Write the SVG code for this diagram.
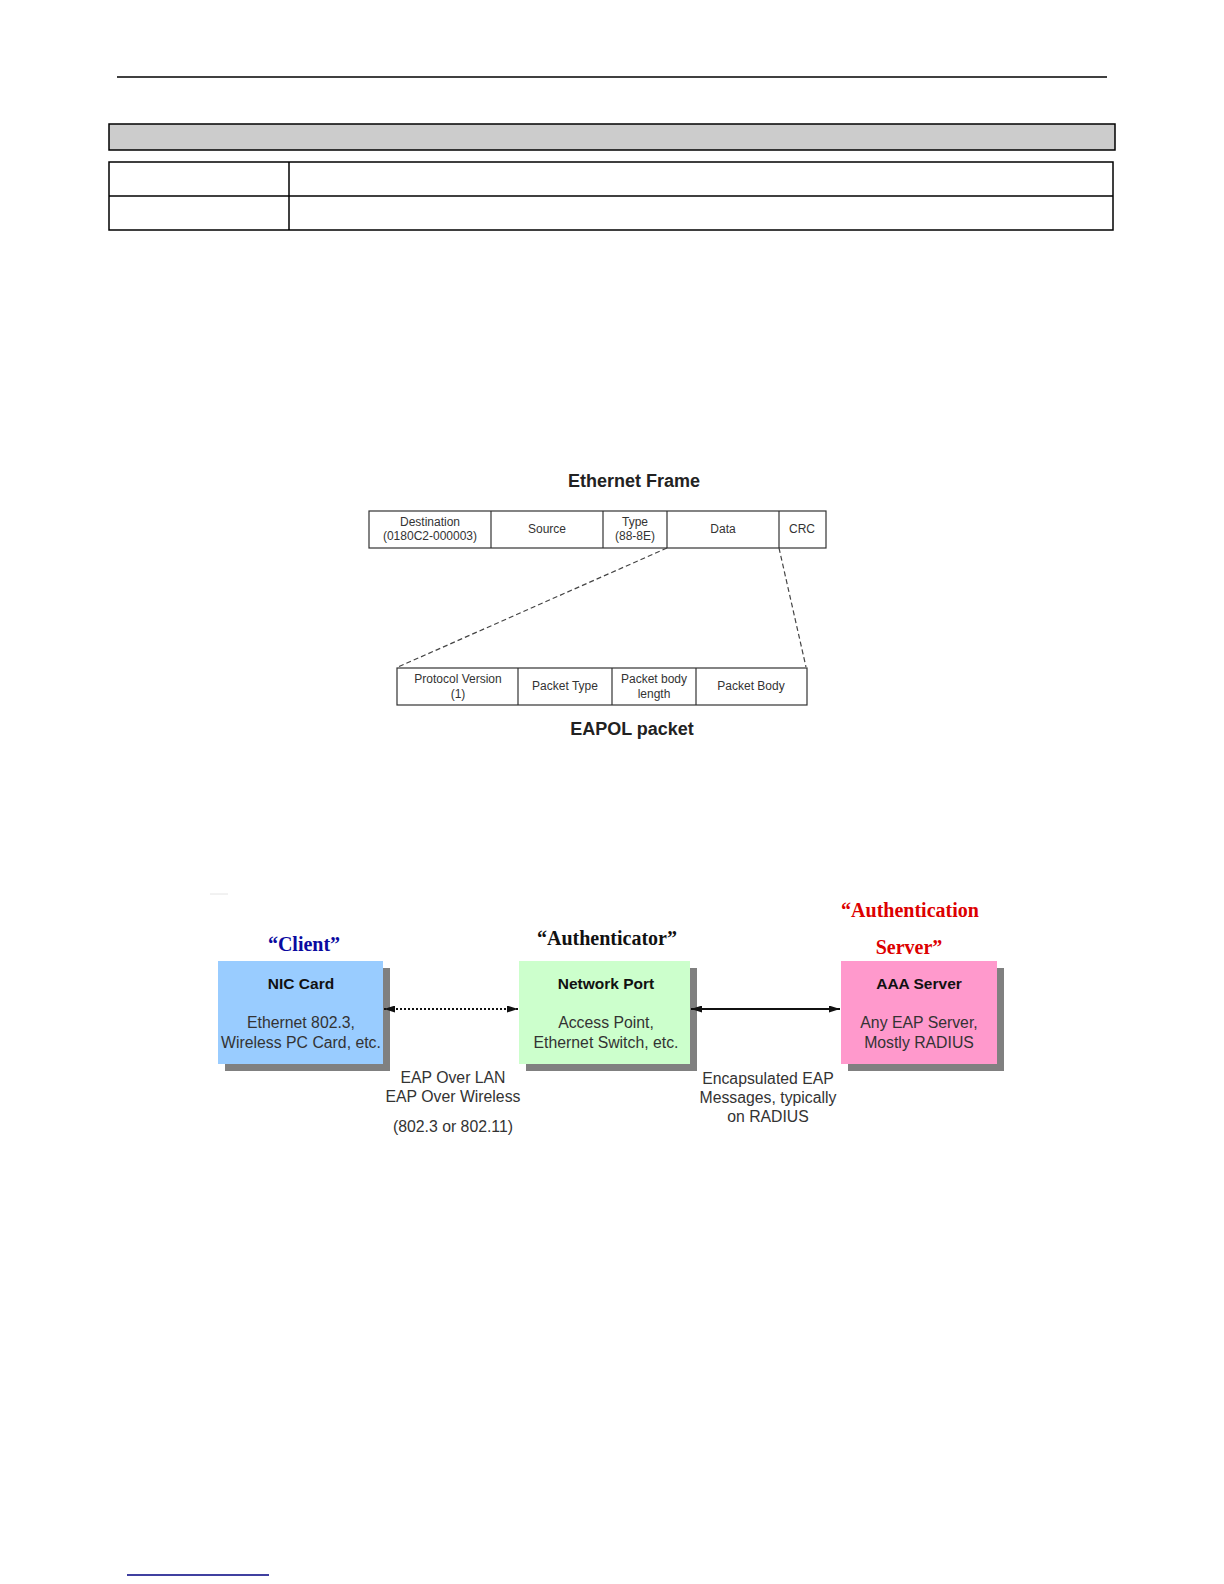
<svg xmlns="http://www.w3.org/2000/svg" width="1224" height="1584" viewBox="0 0 1224 1584">
<style>
.ln{stroke:#000;stroke-width:1.5;fill:none}
.cell{fill:#fff;stroke:#333;stroke-width:1.2}
.ft{font-family:"Liberation Sans",Arial,sans-serif;font-size:12px;fill:#333;text-anchor:middle}
.ttl{font-family:"Liberation Sans",Arial,sans-serif;font-size:18px;font-weight:bold;fill:#222;text-anchor:middle}
.role{font-family:"Liberation Serif","Times New Roman",serif;font-size:20px;font-weight:bold;text-anchor:middle}
.nh{font-family:"Liberation Sans",Arial,sans-serif;font-size:15.5px;font-weight:bold;fill:#111;text-anchor:middle}
.nb{font-family:"Liberation Sans",Arial,sans-serif;font-size:15.8px;fill:#333;text-anchor:middle}
.lbl{font-family:"Liberation Sans",Arial,sans-serif;font-size:15.8px;fill:#333;text-anchor:middle}
.dash{stroke:#444;stroke-width:1.2;stroke-dasharray:5,3;fill:none}
.shadow{fill:#808080}
</style>
<defs>
<marker id="ah" viewBox="0 0 11 7" refX="11" refY="3.5" markerWidth="11" markerHeight="7" orient="auto-start-reverse" markerUnits="userSpaceOnUse">
<path d="M0,0 L11,3.5 L0,7 z" fill="#111"/>
</marker>
</defs>
<rect width="1224" height="1584" fill="#fff"/>

<g id="page-header">
<line x1="117" y1="77" x2="1107" y2="77" class="ln" stroke-width="1.3"/>
<rect x="109" y="124" width="1006" height="26" fill="#cccccc" stroke="#000" stroke-width="1.5"/>
<rect x="109" y="162" width="1004" height="68" fill="#fff" stroke="#000" stroke-width="1.5"/>
<line x1="109" y1="196" x2="1113" y2="196" class="ln"/>
<line x1="289" y1="162" x2="289" y2="230" class="ln"/>
</g>

<g id="ethernet-frame">
<text x="634" y="487" class="ttl">Ethernet Frame</text>
<rect x="369" y="511" width="457" height="37" class="cell"/>
<line x1="491" y1="511" x2="491" y2="548" stroke="#333" stroke-width="1.2"/>
<line x1="603" y1="511" x2="603" y2="548" stroke="#333" stroke-width="1.2"/>
<line x1="667" y1="511" x2="667" y2="548" stroke="#333" stroke-width="1.2"/>
<line x1="779" y1="511" x2="779" y2="548" stroke="#333" stroke-width="1.2"/>
<text x="430" y="526" class="ft">Destination</text>
<text x="430" y="540" class="ft">(0180C2-000003)</text>
<text x="547" y="533" class="ft">Source</text>
<text x="635" y="526" class="ft">Type</text>
<text x="635" y="540" class="ft">(88-8E)</text>
<text x="723" y="533" class="ft">Data</text>
<text x="802" y="533" class="ft">CRC</text>
</g>

<g id="eapol-packet">
<rect x="397" y="668" width="410" height="37" class="cell"/>
<line x1="518" y1="668" x2="518" y2="705" stroke="#333" stroke-width="1.2"/>
<line x1="612" y1="668" x2="612" y2="705" stroke="#333" stroke-width="1.2"/>
<line x1="696" y1="668" x2="696" y2="705" stroke="#333" stroke-width="1.2"/>
<text x="458" y="683" class="ft">Protocol Version</text>
<text x="458" y="698" class="ft">(1)</text>
<text x="565" y="690" class="ft">Packet Type</text>
<text x="654" y="683" class="ft">Packet body</text>
<text x="654" y="698" class="ft">length</text>
<text x="751" y="690" class="ft">Packet Body</text>
<text x="632" y="735" class="ttl">EAPOL packet</text>
</g>

<g id="frame-connectors">
<line x1="667" y1="548" x2="398" y2="667" class="dash"/>
<line x1="779" y1="548" x2="806" y2="667" class="dash"/>
</g>

<line x1="210" y1="894" x2="228" y2="894" stroke="#e4e4e4" stroke-width="1"/>

<g id="client">
<text x="304" y="951" class="role" fill="#0a0aa0">“Client”</text>
<rect x="225" y="968" width="165" height="103" class="shadow"/>
<rect x="218" y="961" width="165" height="103" fill="#99ccff"/>
<text x="301" y="989" class="nh">NIC Card</text>
<text x="301" y="1028" class="nb">Ethernet 802.3,</text>
<text x="301" y="1048" class="nb">Wireless PC Card, etc.</text>
</g>

<g id="authenticator">
<text x="607" y="945" class="role" fill="#111">“Authenticator”</text>
<rect x="526" y="968" width="171" height="103" class="shadow"/>
<rect x="519" y="961" width="171" height="103" fill="#ccffcc"/>
<text x="606" y="989" class="nh">Network Port</text>
<text x="606" y="1028" class="nb">Access Point,</text>
<text x="606" y="1048" class="nb">Ethernet Switch, etc.</text>
</g>

<g id="aaa-server">
<text x="910" y="917" class="role" fill="#dd0000">“Authentication</text>
<text x="909" y="954" class="role" fill="#dd0000">Server”</text>
<rect x="848" y="968" width="156" height="103" class="shadow"/>
<rect x="841" y="961" width="156" height="103" fill="#ff99cc"/>
<text x="919" y="989" class="nh">AAA Server</text>
<text x="919" y="1028" class="nb">Any EAP Server,</text>
<text x="919" y="1048" class="nb">Mostly RADIUS</text>
</g>

<g id="connectors">
<line x1="384" y1="1009" x2="518" y2="1009" stroke="#111" stroke-width="2.2" stroke-dasharray="2,2" marker-start="url(#ah)" marker-end="url(#ah)"/>
<line x1="691" y1="1009" x2="840" y2="1009" stroke="#111" stroke-width="2" marker-start="url(#ah)" marker-end="url(#ah)"/>
<text x="453" y="1083" class="lbl">EAP Over LAN</text>
<text x="453" y="1102" class="lbl">EAP Over Wireless</text>
<text x="453" y="1132" class="lbl">(802.3 or 802.11)</text>
<text x="768" y="1084" class="lbl">Encapsulated EAP</text>
<text x="768" y="1103" class="lbl">Messages, typically</text>
<text x="768" y="1122" class="lbl">on RADIUS</text>
</g>

<line x1="127" y1="1575" x2="269" y2="1575" stroke="#000080" stroke-width="1.5"/>
</svg>
